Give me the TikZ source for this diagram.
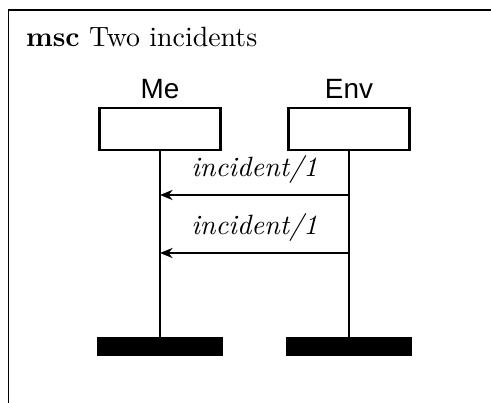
\documentclass[tikz,border=0pt]{standalone}
\usepackage{fontspec}
\usetikzlibrary{arrows.meta}
\newfontfamily\lifefont{Liberation Sans}

\begin{document}
\begin{tikzpicture}[thick, every node/.style={inner sep=0pt},
    head/.style={draw, minimum width=1.525cm, minimum height=0.53cm},
    tail/.style={draw, fill=black, minimum width=1.55cm, minimum height=0.214cm},
    instname/.style={font=\lifefont, anchor=base},
    msg/.style={font=\itshape, above=3.6pt}]
            \useasboundingbox (0,0) rectangle (6.187,-5.078);

            % Frame and title
            \draw[semithick] (0.107,-5.078) -- (0.107,-0.126) -- (6.187,-0.126);
            \node[anchor=base west] (title) at (0.315,-0.586) {\textbf{msc} Two incidents};

            % Instances
            \node[instname] (Me-name) at (2.016,-1.247) {Me};
            \node[instname] (Env-name) at (4.397,-1.247) {Env};
            \node[head] (Me-head) at (2.016,-1.625) {};
            \node[head] (Env-head) at (4.397,-1.625) {};
            \node[tail] (Me-tail) at (2.016,-4.366) {};
            \node[tail] (Env-tail) at (4.397,-4.366) {};

            % Lifelines
            \draw (Me-head) -- (Me-tail);
            \draw (Env-head) -- (Env-tail);

            % Messages
            \coordinate (Env-1) at (4.397,-2.457);
            \coordinate (Me-1) at (2.016,-2.457);
            \coordinate (Env-2) at (4.397,-3.188);
            \coordinate (Me-2) at (2.016,-3.188);
            \draw[-{Stealth[length=4.5pt, width=3.6pt, inset=1.4pt]}] (Env-1) -- node[msg] {incident/1} (Me-1);
            \draw[-{Stealth[length=4.5pt, width=3.6pt, inset=1.4pt]}] (Env-2) -- node[msg] {incident/1} (Me-2);
        \end{tikzpicture}
\end{document}
